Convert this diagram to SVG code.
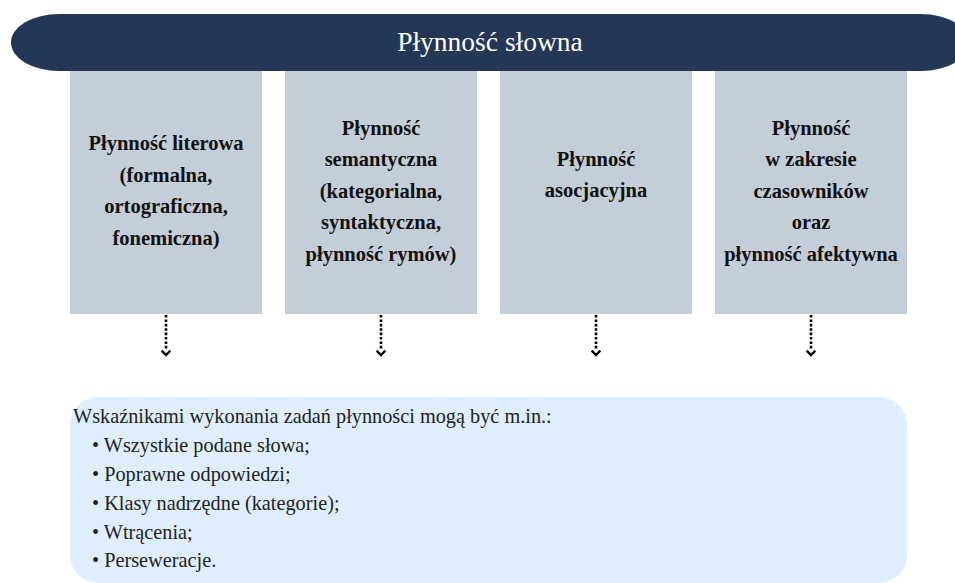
<svg xmlns="http://www.w3.org/2000/svg" width="955" height="583" viewBox="0 0 955 583">
<defs>
<style>
.box{fill:#C4CED9;}
.bt{font-family:"Liberation Serif","Times New Roman",serif;font-weight:bold;font-size:20.5px;fill:#111;text-anchor:middle;}
.bl{font-family:"Liberation Serif","Times New Roman",serif;font-size:20.3px;fill:#222;}
.dot{stroke:#000;stroke-width:2.6;stroke-dasharray:2.6 1.8;fill:none;}
.head{stroke:#000;stroke-width:2.4;fill:none;stroke-linecap:square;}
</style>
</defs>
<rect width="955" height="583" fill="#fff"/>
<g id="title">
<rect x="11" y="14" width="958" height="57" rx="48" ry="28.5" fill="#243757"/>
<text x="490" y="51" font-family="Liberation Serif,'Times New Roman',serif" font-size="27.5" fill="#fff" text-anchor="middle">Płynność słowna</text>
</g>
<g id="box1">
<rect class="box" x="70" y="71" width="192" height="243"/>
<text class="bt" x="166" y="150">Płynność literowa</text>
<text class="bt" x="166" y="182">(formalna,</text>
<text class="bt" x="166" y="213">ortograficzna,</text>
<text class="bt" x="166" y="245">fonemiczna)</text>
</g>
<g id="box2">
<rect class="box" x="285" y="71" width="192" height="243"/>
<text class="bt" x="381" y="135">Płynność</text>
<text class="bt" x="381" y="166">semantyczna</text>
<text class="bt" x="381" y="198">(kategorialna,</text>
<text class="bt" x="381" y="229">syntaktyczna,</text>
<text class="bt" x="381" y="261">płynność rymów)</text>
</g>
<g id="box3">
<rect class="box" x="500" y="71" width="192" height="243"/>
<text class="bt" x="596" y="166">Płynność</text>
<text class="bt" x="596" y="197">asocjacyjna</text>
</g>
<g id="box4">
<rect class="box" x="715" y="71" width="192" height="243"/>
<text class="bt" x="811" y="135">Płynność</text>
<text class="bt" x="811" y="166">w zakresie</text>
<text class="bt" x="811" y="198">czasowników</text>
<text class="bt" x="811" y="229">oraz</text>
<text class="bt" x="811" y="261">płynność afektywna</text>
</g>
<g id="connectors">
<path class="dot" d="M166 315V349M381 315V349M596 315V349M811 315V349"/>
<path class="head" d="M162.5 351.5L166 355L169.5 351.5M377.5 351.5L381 355L384.5 351.5M592.5 351.5L596 355L599.5 351.5M807.5 351.5L811 355L814.5 351.5"/>
</g>
<g id="indicators">
<path d="M98 397H879A28 28 0 0 1 907 425V555A28 28 0 0 1 879 583H98A28 28 0 0 1 70 555V425A28 28 0 0 1 98 397Z" fill="#DFEEFD"/>
<text class="bl" x="73" y="423">Wskaźnikami wykonania zadań płynności mogą być m.in.:</text>
<text class="bl" x="92" y="452">• Wszystkie podane słowa;</text>
<text class="bl" x="92" y="481">• Poprawne odpowiedzi;</text>
<text class="bl" x="92" y="510">• Klasy nadrzędne (kategorie);</text>
<text class="bl" x="92" y="539">• Wtrącenia;</text>
<text class="bl" x="92" y="567">• Perseweracje.</text>
</g>
</svg>
